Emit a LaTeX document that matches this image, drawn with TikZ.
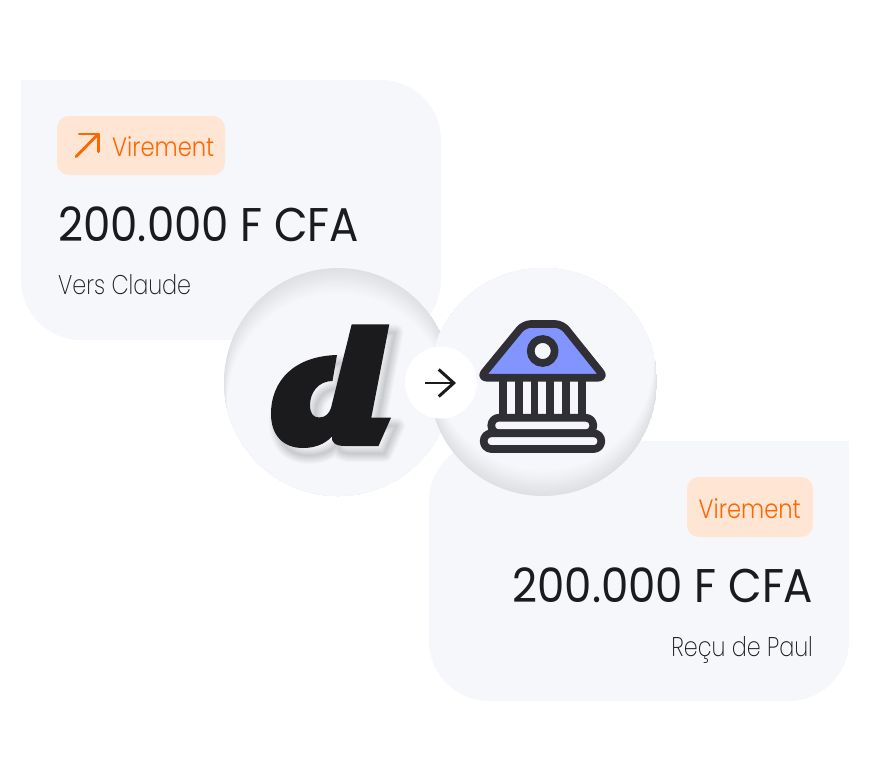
\documentclass[tikz,border=0pt]{standalone}
\usepackage{fontspec}
\usetikzlibrary{arrows.meta}
\setmainfont{Poppins}[UprightFont=* Light,FakeStretch=.855]
\newfontfamily\mediumfont{Poppins}[FakeStretch=.92]
\newfontfamily\thinfont{Poppins}[UprightFont=* ExtraLight,FakeStretch=.825]
\definecolor{cardfill}{HTML}{F6F7FB}
\definecolor{rimgray}{HTML}{DFE0E4}
\definecolor{badgefill}{HTML}{FFE5D4}
\definecolor{accent}{HTML}{FF6600}
\definecolor{inkdark}{HTML}{1B1B1D}
\definecolor{bankdark}{HTML}{2F2F35}
\definecolor{roofblue}{HTML}{8294FF}

\def\logocircle{(338,382) circle (114)}
\def\bankcircle{(543,382) circle (114)}
\def\logopath{(351.7,324.3) -- (389.3,324.3) -- (371.3,417.7) -- (391,417.7) -- (378.5,446)
  -- (345,446) .. controls (335,446) and (331,442) .. (332,436.5)
  .. controls (325,444) and (315,448) .. (303,448)
  .. controls (283,448) and (271,435) .. (271,414)
  .. controls (271,380) and (295,356) .. (337,355) -- (332.5,381)
  .. controls (318,381) and (310,393) .. (310,405)
  .. controls (310,413) and (313,417.5) .. (319,417.5)
  .. controls (325,417.5) and (329,414) .. (331,408) -- cycle}

\tikzset{
  card/.style={fill=cardfill, rounded corners=60pt},
  badge/.style={fill=badgefill, rounded corners=12pt, inner sep=0pt},
  badgetext/.style={inner sep=0pt, text=accent, font=\fontsize{26.5}{26.5}\selectfont},
  amount/.style={inner sep=0pt, text=inkdark, font=\mediumfont\fontsize{47.3}{47.3}\selectfont},
  party/.style={inner sep=0pt, text=inkdark, font=\thinfont\fontsize{27}{27}\selectfont},
  bankline/.style={draw=bankdark, line width=7.7pt, line join=round},
  iconarrow/.style={line width=2.8pt, line cap=round, line join=round}
}

\begin{document}
\begin{tikzpicture}[x=1pt,y=-1pt]
  \useasboundingbox (0,0) rectangle (870,780);

  % cards
  \fill[card] (21,80) rectangle (441,340);
  \fill[cardfill] (21,80) rectangle (100,150);
  \fill[card] (429,441) rectangle (849,701);
  \fill[cardfill] (770,441) rectangle (849,510);

  % first card
  \node[badge, minimum width=168pt, minimum height=59pt] (sendbadge) at (141,145.5) {};
  \node[badgetext, anchor=base west] (sendlabel) at (112,156.5) {Virement};
  \coordinate (sendtail) at (76,156.7);
  \coordinate (sendtip) at (98.3,134);
  \draw[iconarrow, accent] (sendtail) -- (sendtip);
  \draw[iconarrow, accent] (79.3,134) -- (sendtip) -- (98.3,151.7);
  \node[amount, anchor=base west] (sendamount) at (58,241) {200.000 F CFA};
  \node[party, anchor=base west] (sendparty) at (58,294) {Vers Claude};

  % second card
  \node[badge, minimum width=126pt, minimum height=60pt] (recvbadge) at (750,507) {};
  \node[badgetext, anchor=base east] (recvlabel) at (801,518.5) {Virement};
  \node[amount, anchor=base east] (recvamount) at (813.5,602) {200.000 F CFA};
  \node[party, anchor=base east] (recvparty) at (813,656) {Reçu de Paul};

  % logo circle, rim on top
  \begin{scope}
    \clip \logocircle;
    \fill[rimgray] \logocircle;
    \foreach \s in {1,...,22} {
      \pgfmathsetmacro\tint{100-\s*100/22}
      \fill[rimgray!\tint!cardfill] (338,382+\s) circle ({114-.15*\s});
    }
  \end{scope}

  % bank circle, rim below
  \begin{scope}
    \clip \bankcircle;
    \fill[rimgray] \bankcircle;
    \foreach \s in {1,...,22} {
      \pgfmathsetmacro\tint{100-\s*100/22}
      \fill[rimgray!\tint!cardfill] (543,382-\s) circle ({114-.15*\s});
    }
  \end{scope}

  % logo with soft shadow
  \begin{scope}[shift={(6,8)}]
    \foreach \w in {16,14,...,2} {
      \draw[black, opacity=.02, line width=\w pt, line join=round] \logopath;
    }
    \fill[black, opacity=.02] \logopath;
  \end{scope}
  \fill[inkdark] \logopath;

  % arrow between the circles
  \node[circle, fill=white, minimum size=72pt, inner sep=0pt] (midcircle) at (441,382.5) {};
  \coordinate (midtail) at (425,383);
  \coordinate (midtip) at (456,383);
  \draw[iconarrow, inkdark, line cap=butt, -{Straight Barb[length=15pt,width=27pt,line width=3pt]}] (midtail) -- (midtip);

  % bank
  \draw[bankline, fill=roofblue, rounded corners=7pt] (524,324) -- (562,324) -- (605,377.7) -- (480,377.7) -- cycle;
  \draw[bankline, fill=cardfill] (542.7,351) circle (12);
  \foreach \c in {503.3,518.8,534.5,550.3,566.2,581.7} {
    \draw[bankdark, line width=7.7pt] (\c,377) -- (\c,420);
  }
  \draw[bankline, fill=cardfill, rounded corners=7.7pt] (491.3,417.7) rectangle (593.3,433.3);
  \draw[bankline, fill=cardfill, rounded corners=7.7pt] (483.7,433.3) rectangle (601.3,449);
\end{tikzpicture}
\end{document}
